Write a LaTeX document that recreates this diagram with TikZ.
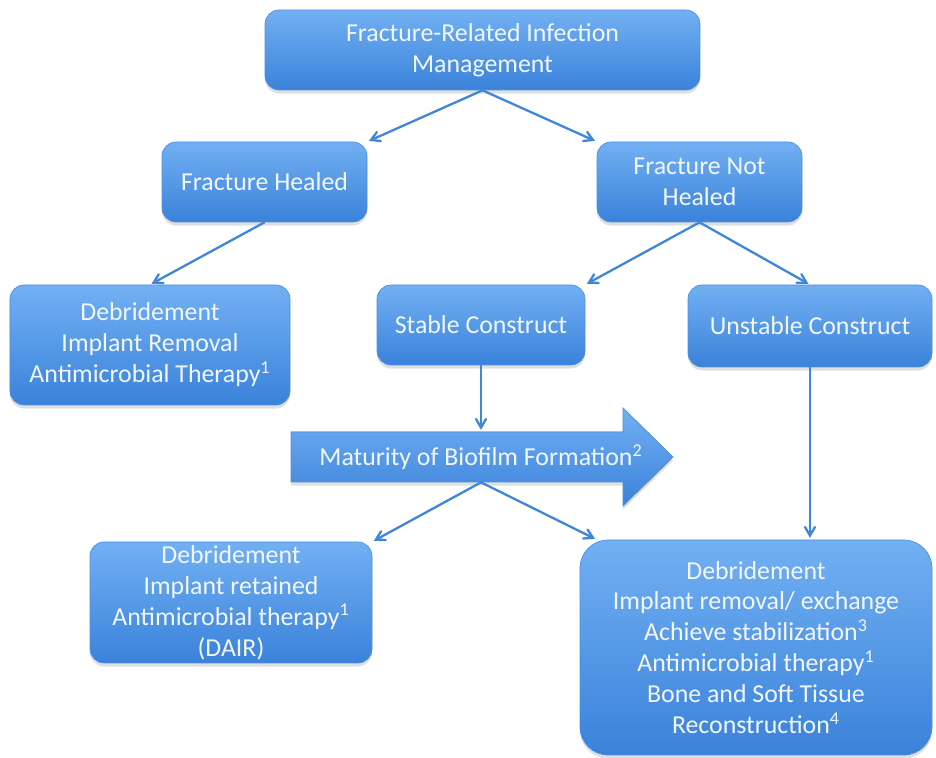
\documentclass[tikz,border=0pt]{standalone}
\usepackage{fontspec}
\setmainfont{Carlito}
\usepackage{tikz}
\usetikzlibrary{arrows,shadows}
\definecolor{boxtop}{HTML}{72B0F3}
\definecolor{boxbot}{HTML}{3A82DA}
\definecolor{boxline}{HTML}{4E90E2}
\definecolor{pilblue}{HTML}{3E86D9}
\definecolor{boxtext}{HTML}{F2F7FD}
\tikzset{
    %Define standard arrow tip
    >=angle 60,
    %Define style for boxes
    flowbox/.style={
           rectangle,
           rounded corners=8pt,
           top color=boxtop, bottom color=boxbot,
           draw=boxline, thin,
           drop shadow={opacity=0.25,shadow xshift=0pt,shadow yshift=-2pt},
           text=boxtext,
           align=center,
           inner sep=0pt,
           font=\fontsize{14.7}{17.6}\selectfont},
    %Define style for the wide arrow
    bigarrow/.style={
           top color=boxtop, bottom color=boxbot,
           draw=boxline, thin,
           drop shadow={opacity=0.25,shadow xshift=0pt,shadow yshift=-2pt}},
    biotext/.style={
           text=boxtext,
           inner sep=0pt,
           minimum height=1cm,
           font=\fontsize{14.7}{17.6}\selectfont},
    % Define arrow style
    pil/.style={
           ->,
           draw=pilblue,
           line width=1.3pt,
           shorten >=1pt}
}
\begin{document}
\begin{tikzpicture}
\useasboundingbox (0,0) rectangle (18.72,-15.16);
\node[flowbox, minimum width=8.7cm, minimum height=1.6cm] (top) at (9.65,-1.0)
    {Fracture-Related Infection\\Management};
\node[flowbox, minimum width=4.1cm, minimum height=1.6cm] (healed) at (5.29,-3.64)
    {Fracture Healed};
\node[flowbox, minimum width=4.1cm, minimum height=1.6cm] (nothealed) at (13.99,-3.64)
    {Fracture Not\\Healed};
\node[flowbox, minimum width=5.6cm, minimum height=2.4cm] (debr) at (3.0,-6.9)
    {Debridement\\Implant Removal\\Antimicrobial Therapy\textsuperscript{1}};
\node[flowbox, minimum width=4.16cm, minimum height=1.6cm] (stable) at (9.62,-6.5)
    {Stable Construct};
\node[flowbox, minimum width=4.88cm, minimum height=1.64cm] (unstable) at (16.2,-6.52)
    {Unstable Construct};

% wide arrow
\filldraw[bigarrow] (5.82,-8.64) -- (12.46,-8.64) -- (12.46,-8.16) -- (13.46,-9.14)
    -- (12.46,-10.12) -- (12.46,-9.64) -- (5.82,-9.64) -- cycle;
\node[biotext] (bio) at (9.62,-9.14) {Maturity of Biofilm Formation\textsuperscript{2}};

\node[flowbox, minimum width=5.64cm, minimum height=2.42cm] (dair) at (4.62,-12.05)
    {Debridement\\Implant retained\\Antimicrobial therapy\textsuperscript{1}\\(DAIR)};
\node[flowbox, rounded corners=16pt, minimum width=7.04cm, minimum height=4.3cm] (fin) at (15.12,-12.95)
    {Debridement\\Implant removal/ exchange\\Achieve stabilization\textsuperscript{3}\\Antimicrobial therapy\textsuperscript{1}\\Bone and Soft Tissue\\Reconstruction\textsuperscript{4}};

\path (top.south) edge[pil] (healed.north east)
                  edge[pil] (nothealed.north west);
\path (healed.south) edge[pil] (debr.north);
\path (nothealed.south) edge[pil] (stable.north east)
                        edge[pil] (unstable.north);
\path (stable.south) edge[pil] (bio.north);
\path (unstable.south) edge[pil] (unstable.south |- fin.north);
\path (bio.south) edge[pil] (dair.north east)
                  edge[pil] ([xshift=0.34cm]fin.north west);
\end{tikzpicture}
\end{document}
